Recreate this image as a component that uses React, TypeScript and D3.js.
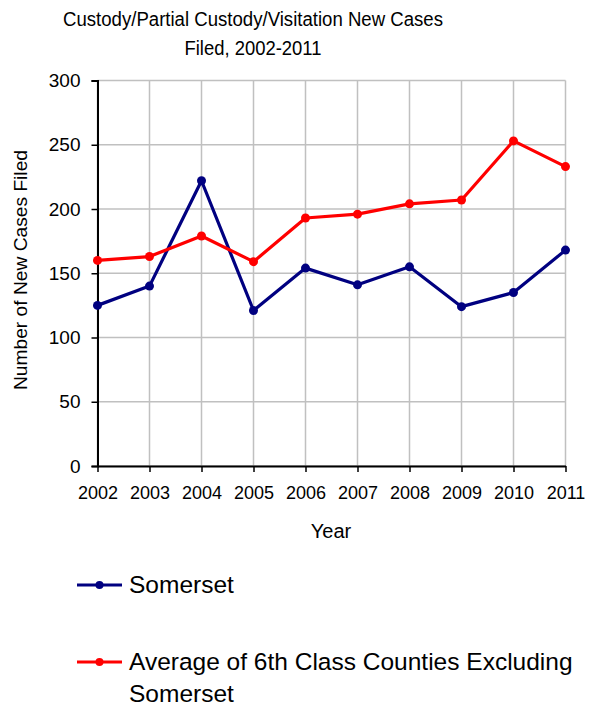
import React, { useEffect, useRef } from "react";
import * as d3 from "d3";

const years = ["2002", "2003", "2004", "2005", "2006", "2007", "2008", "2009", "2010", "2011"];
const somerset = [125, 140, 222, 121, 154, 141, 155, 124, 135, 168];
const sixthClassAvg = [160, 163, 179, 159, 193, 196, 204, 207, 253, 233];
const yTicks = [0, 50, 100, 150, 200, 250, 300];

const W = 604;
const H = 708;
const FONT = "'Liberation Sans', Arial, sans-serif";

const App: React.FC = () => {
  const ref = useRef<SVGSVGElement>(null);

  useEffect(() => {
    if (!ref.current) return;
    const svg = d3.select(ref.current);
    svg.selectAll("*").remove();

    const x = d3.scalePoint<string>().domain(years).range([97.5, 565.5]);
    const y = d3.scaleLinear().domain([0, 300]).range([466, 80.5]);

    // grid
    const grid = svg.append("g").attr("stroke", "#c0c0c0").attr("stroke-width", 1.5);
    yTicks.forEach((t) => {
      grid.append("line").attr("x1", x(years[0])!).attr("x2", x(years[years.length - 1])!)
        .attr("y1", y(t)).attr("y2", y(t));
    });
    years.forEach((yr) => {
      grid.append("line").attr("x1", x(yr)!).attr("x2", x(yr)!)
        .attr("y1", y(0)).attr("y2", y(300));
    });

    // axes
    const yAxis = svg.append("g").attr("transform", `translate(${x(years[0])},0)`)
      .call(d3.axisLeft(y).tickValues(yTicks).tickSize(6).tickPadding(11));
    yAxis.select(".domain").attr("stroke", "#000").attr("stroke-width", 2);
    yAxis.selectAll(".tick line").attr("stroke", "#000").attr("stroke-width", 1.5);
    yAxis.selectAll("text").attr("font-family", FONT).attr("font-size", 19).attr("fill", "#000");

    const xAxis = svg.append("g").attr("transform", `translate(0,${y(0)})`)
      .call(d3.axisBottom(x).tickSize(6).tickPadding(14).tickSizeOuter(0));
    xAxis.select(".domain").attr("stroke", "#000").attr("stroke-width", 2);
    xAxis.selectAll(".tick line").attr("stroke", "#000").attr("stroke-width", 1.5);
    xAxis.selectAll("text").attr("font-family", FONT).attr("font-size", 18).attr("fill", "#000");

    const line = d3.line<number>().x((_, i) => x(years[i])!).y((d) => y(d));

    const series = [
      { name: "Somerset", values: somerset, color: "#000080" },
      { name: "Average", values: sixthClassAvg, color: "#ff0000" },
    ];
    series.forEach((s) => {
      svg.append("path").datum(s.values).attr("d", line).attr("fill", "none")
        .attr("stroke", s.color).attr("stroke-width", 3.2).attr("stroke-linejoin", "round");
      svg.append("g").selectAll("circle").data(s.values).enter().append("circle")
        .attr("cx", (_, i) => x(years[i])!).attr("cy", (d) => y(d)).attr("r", 4.5)
        .attr("fill", s.color);
    });

    // title
    const title = svg.append("text").attr("text-anchor", "middle").attr("font-family", FONT)
      .attr("font-size", 20).attr("fill", "#000");
    title.append("tspan").attr("x", 253).attr("y", 26).attr("textLength", 380)
      .attr("lengthAdjust", "spacingAndGlyphs").text("Custody/Partial Custody/Visitation New  Cases");
    title.append("tspan").attr("x", 253).attr("y", 55).attr("textLength", 137)
      .attr("lengthAdjust", "spacingAndGlyphs").text("Filed, 2002-2011");

    svg.append("text").attr("x", 331).attr("y", 538).attr("text-anchor", "middle")
      .attr("font-family", FONT).attr("font-size", 20).text("Year");

    svg.append("text").attr("transform", "translate(27,270) rotate(-90)").attr("text-anchor", "middle")
      .attr("font-family", FONT).attr("font-size", 18).attr("textLength", 240)
      .attr("lengthAdjust", "spacingAndGlyphs").text("Number of New Cases Filed");

    // legend
    const legend = [
      { color: "#000080", ly: 585, lines: ["Somerset"] },
      { color: "#ff0000", ly: 662, lines: ["Average of 6th Class Counties Excluding", "Somerset"] },
    ];
    legend.forEach((l) => {
      svg.append("line").attr("x1", 77).attr("x2", 122).attr("y1", l.ly).attr("y2", l.ly)
        .attr("stroke", l.color).attr("stroke-width", 3.2);
      svg.append("circle").attr("cx", 99.5).attr("cy", l.ly).attr("r", 4).attr("fill", l.color);
      const t = svg.append("text").attr("font-family", FONT).attr("font-size", 24.5).attr("fill", "#000");
      l.lines.forEach((txt, i) => {
        t.append("tspan").attr("x", 129).attr("y", l.ly + 8 + i * 32).text(txt);
      });
    });
  }, []);

  return <svg ref={ref} width={W} height={H} style={{ display: "block", position: "absolute", left: 0, top: 0 }} />;
};

export default App;
